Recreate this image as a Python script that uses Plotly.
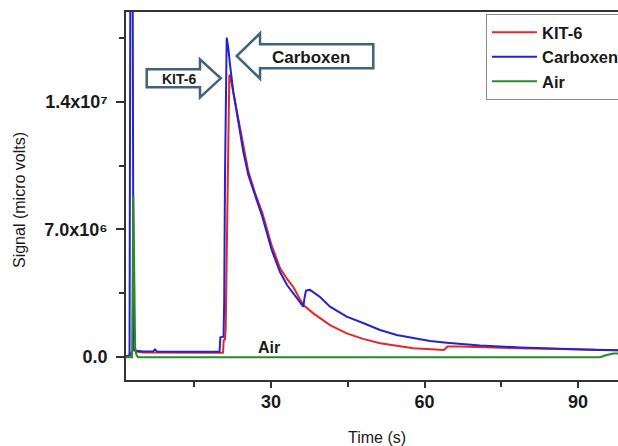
import plotly.graph_objects as go

# ---- data ----
time_kit6 = [1.66, 2.35, 3.13, 3.62, 5.0, 10.0, 15.0, 20.62, 20.75, 21.0, 21.14,
             21.55, 21.85, 22.0, 22.3, 22.63, 23.61, 24.59, 25.56, 26.87, 28.30, 30.14, 31.76,
             33.13, 34.36, 35.28, 36.31, 38.27, 41.53, 44.79, 47.98, 51.30, 54.56, 57.81,
             63.8, 64.5, 66.94, 70.85, 78.66, 86.48, 94.30, 97.81]
signal_kit6 = [0.02e6, 0.06e6, 0.40e6, 0.28e6, 0.23e6, 0.22e6, 0.22e6, 0.22e6, 0.9e6,
               0.95e6, 1.5e6, 10.0e6, 15.48e6, 15.45e6, 15.0e6, 14.6e6, 13.05e6, 11.45e6,
               10.2e6, 9.0e6, 7.9e6, 6.1e6, 4.87e6, 4.27e6, 3.83e6, 3.35e6, 2.84e6, 2.38e6,
               1.74e6, 1.28e6, 0.98e6, 0.74e6, 0.58e6, 0.46e6, 0.37e6, 0.56e6, 0.56e6,
               0.52e6, 0.46e6, 0.42e6, 0.37e6, 0.35e6]

time_carboxen = [1.66, 2.35, 2.54, 2.93, 3.13, 3.62, 5.0, 7.0, 7.33, 7.7, 12.0, 16.0, 19.94,
                 20.1, 20.72, 20.85, 21.01, 21.34, 21.66, 21.99, 22.63, 23.61, 24.59, 25.56,
                 26.87, 28.30, 30.14, 31.76, 33.13, 34.36, 35.28, 36.31, 36.55, 36.84, 37.62,
                 39.58, 41.53, 44.79, 47.98, 51.30, 54.56, 57.81, 61.07, 64.34, 66.94, 70.85,
                 78.66, 86.48, 94.30, 97.81]
signal_carboxen = [0.03e6, 0.08e6, 25e6, 25e6, 0.49e6, 0.33e6, 0.28e6, 0.30e6, 0.40e6, 0.28e6,
                   0.27e6, 0.26e6, 0.27e6, 1.07e6, 1.10e6, 3.0e6, 9.98e6, 17.53e6, 16.95e6,
                   16.03e6, 14.56e6, 12.91e6, 11.26e6, 9.98e6, 8.83e6, 7.69e6, 5.86e6, 4.65e6,
                   3.94e6, 3.48e6, 3.17e6, 2.75e6, 3.23e6, 3.63e6, 3.67e6, 3.28e6, 2.75e6,
                   2.20e6, 1.85e6, 1.47e6, 1.19e6, 1.01e6, 0.86e6, 0.77e6, 0.70e6, 0.62e6,
                   0.51e6, 0.42e6, 0.37e6, 0.35e6]

time_air = [1.66, 2.85, 3.09, 3.35, 3.45, 3.7, 4.0, 20.0, 50.0, 94.3, 95.6, 96.9, 97.81]
signal_air = [-0.03e6, -0.03e6, 8.84e6, 1.5e6, 0.5e6, 0.1e6, -0.03e6, -0.03e6, -0.03e6,
              -0.03e6, 0.09e6, 0.18e6, 0.18e6]

x_ticks = [30, 60, 90]
x_ticklabels = ["30", "60", "90"]
x_minor = [15, 45, 75]
y_ticks = [0, 7e6, 1.4e7]
y_ticklabels = ["0.0", "7.0x10\u2076", "1.4x10\u2077"]
y_minor = [3.5e6, 1.05e7, 1.75e7]

# ---- layout helpers ----
W, H = 618, 446
ML, MR, MT, MB = 126, 0, 12, 66
PW, PH = W - ML - MR, H - MT - MB


def P(px, py):
    return (px - ML) / PW, (H - MB - py) / PH


def path(points):
    pts = [P(x, y) for x, y in points]
    return "M" + " L".join(f"{x:.4f},{y:.4f}" for x, y in pts) + " Z"


FONT = "Arial, Liberation Sans, sans-serif"
AX = "#333333"

fig = go.Figure()
fig.add_trace(go.Scatter(x=time_kit6, y=signal_kit6, mode="lines", name="KIT-6",
                         line=dict(color="#e8262a", width=2)))
fig.add_trace(go.Scatter(x=time_carboxen, y=signal_carboxen, mode="lines", name="Carboxen",
                         line=dict(color="#2323cf", width=2)))
fig.add_trace(go.Scatter(x=time_air, y=signal_air, mode="lines", name="Air",
                         line=dict(color="#2a8a2a", width=2)))

arrow_style = dict(type="path", xref="paper", yref="paper", layer="above",
                   line=dict(color="#40627d", width=2.5), fillcolor="white")
shapes = [
    dict(path=path([(146.7, 69.3), (200, 69.3), (200, 59.3), (220.7, 78.3), (200, 97.3),
                    (200, 87.3), (146.7, 87.3)]), **arrow_style),
    dict(path=path([(373.3, 44.3), (260, 44.3), (260, 33.3), (236.7, 56), (260, 78.7),
                    (260, 68.3), (373.3, 68.3)]), **arrow_style),
]


def ann(text, px, py, size, bold=True, angle=0):
    x, y = P(px, py)
    return dict(text=text, x=x, y=y, xref="paper", yref="paper", showarrow=False,
                xanchor="center", yanchor="middle", textangle=angle,
                font=dict(family=FONT, size=size, color="#1a1a1a",
                          weight="bold" if bold else "normal"))


annotations = [
    ann("KIT-6", 179, 79, 14),
    ann("Carboxen", 311, 57, 17),
    ann("Air", 269, 347, 16),
    ann("Time (s)", 377, 437, 16, bold=False),
    ann("Signal (micro volts)", 19, 200, 16, bold=False, angle=-90),
]

lx, ly = P(486, 14)
fig.update_layout(
    template="none",
    width=W, height=H, autosize=False,
    margin=dict(l=ML, r=MR, t=MT, b=MB, autoexpand=False),
    paper_bgcolor="white", plot_bgcolor="white",
    showlegend=True,
    legend=dict(x=lx, y=ly, xanchor="left", yanchor="top", bgcolor="white",
                bordercolor="#8c8c8c", borderwidth=1, itemwidth=45,
                font=dict(family=FONT, size=16.5, color="#1a1a1a", weight="bold")),
    shapes=shapes,
    annotations=annotations,
    xaxis=dict(range=[1.66, 97.81], showgrid=False, zeroline=False, automargin=False,
               showline=True, linecolor=AX, linewidth=1.5, mirror=True,
               ticks="outside", ticklen=6, tickwidth=1.5, tickcolor=AX,
               tickmode="array", tickvals=x_ticks, ticktext=x_ticklabels,
               ticklabelstandoff=-1,
               tickfont=dict(family=FONT, size=18, color="#1a1a1a", weight="bold"),
               minor=dict(tickmode="array", tickvals=x_minor, ticks="outside", ticklen=5,
                          tickwidth=1.5, tickcolor=AX, showgrid=False)),
    yaxis=dict(range=[-1.28e6, 18.94e6], showgrid=False, zeroline=False, automargin=False,
               showline=True, linecolor=AX, linewidth=1.5,
               ticks="outside", ticklen=8, tickwidth=1.5, tickcolor=AX,
               tickmode="array", tickvals=y_ticks, ticktext=y_ticklabels,
               ticklabelstandoff=5,
               tickfont=dict(family=FONT, size=18, color="#1a1a1a", weight="bold"),
               minor=dict(tickmode="array", tickvals=y_minor, ticks="outside", ticklen=5,
                          tickwidth=1.5, tickcolor=AX, showgrid=False)),
)

fig.write_html("out.html", config={"displayModeBar": False},
               post_script="document.body.style.margin='0';document.body.style.overflow='hidden';")
